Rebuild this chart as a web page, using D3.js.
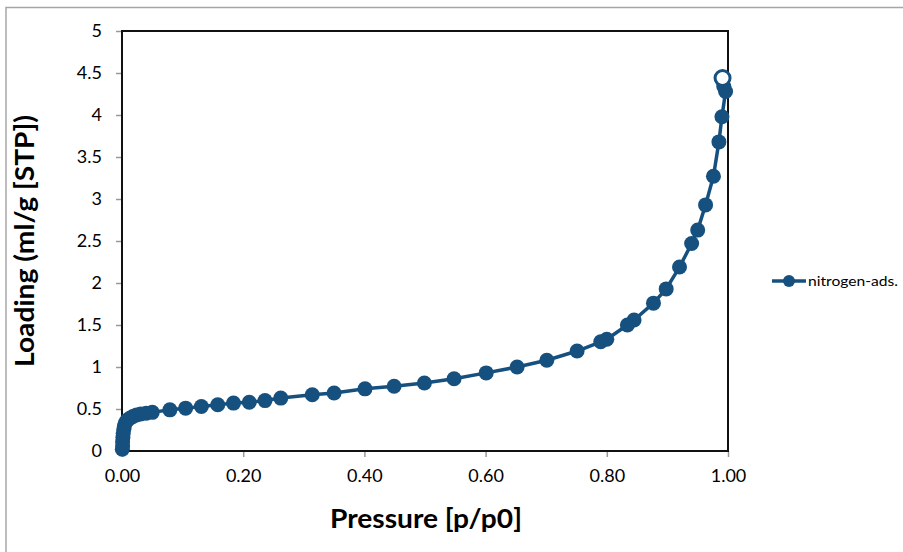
<!DOCTYPE html>
<html>
<head>
<meta charset="utf-8">
<script src="https://cdn.jsdelivr.net/npm/d3@7"></script>
<style>
  body { margin: 0; background: #fff; }
  svg text { font-family: Lato, "Open Sans", sans-serif; fill: #000; }
</style>
</head>
<body>
<svg id="chart" width="903" height="552"></svg>
<script>
// relative pressure p/p0
const pressure = [0.0005, 0.001, 0.001, 0.0015, 0.002, 0.003, 0.004, 0.006, 0.009, 0.013,
    0.018, 0.024, 0.031, 0.04, 0.05, 0.079, 0.105, 0.131, 0.158, 0.184,
    0.21, 0.236, 0.262, 0.314, 0.35, 0.401, 0.449, 0.499, 0.548, 0.601,
    0.652, 0.701, 0.751, 0.79, 0.8, 0.834, 0.845, 0.877, 0.898, 0.92,
    0.94, 0.95, 0.963, 0.976, 0.985, 0.99, 0.996, 0.993, 0.991];
// loading in ml/g [STP]
const loading = [0.02, 0.06, 0.11, 0.16, 0.21, 0.26, 0.3, 0.34, 0.37, 0.39,
    0.41, 0.43, 0.44, 0.45, 0.46, 0.49, 0.51, 0.53, 0.55, 0.57,
    0.58, 0.6, 0.63, 0.67, 0.69, 0.74, 0.77, 0.81, 0.86, 0.93,
    1.0, 1.08, 1.19, 1.3, 1.33, 1.5, 1.56, 1.76, 1.93, 2.19,
    2.47, 2.63, 2.93, 3.27, 3.68, 3.98, 4.28, 4.34, 4.44];

const xTicks = [0, 0.2, 0.4, 0.6, 0.8, 1.0];
const yTicks = [0, 0.5, 1, 1.5, 2, 2.5, 3, 3.5, 4, 4.5, 5];
const seriesName = 'nitrogen-ads.';

const color = '#16507f';
const svg = d3.select('#chart');

// outer chart border
svg.append('path')
    .attr('d', 'M6,552 V7.5 H903')
    .attr('fill', 'none')
    .attr('stroke', '#a6a6a6')
    .attr('stroke-width', 1.5);

const plotL = 122, plotR = 728, plotT = 31, plotB = 451;
const x = d3.scaleLinear().domain([0, 1]).range([plotL, plotR]);
const y = d3.scaleLinear().domain([0, 5]).range([plotB, plotT]);

// axes
const xAxis = svg.append('g')
    .attr('transform', `translate(0,${plotB})`)
    .call(d3.axisBottom(x).tickValues(xTicks).tickSize(6).tickPadding(12).tickFormat(d3.format('.2f')));
const yAxis = svg.append('g')
    .attr('transform', `translate(${plotL},0)`)
    .call(d3.axisLeft(y).tickValues(yTicks).tickSize(6).tickPadding(14).tickFormat(d => d));

[xAxis, yAxis].forEach(a => {
    a.select('.domain').remove();
    a.selectAll('.tick line').attr('stroke', '#999').attr('stroke-width', 1.5);
    a.selectAll('.tick text').style('font-size', '18px');
});

// plot frame
svg.append('rect')
    .attr('x', plotL).attr('y', plotT)
    .attr('width', plotR - plotL).attr('height', plotB - plotT)
    .attr('fill', 'none')
    .attr('stroke', '#111')
    .attr('stroke-width', 2);

const pts = pressure.map((p, i) => ({p: p, v: loading[i]}));

svg.append('path')
    .datum(pts)
    .attr('fill', 'none')
    .attr('stroke', color)
    .attr('stroke-width', 3.5)
    .attr('stroke-linejoin', 'round')
    .attr('d', d3.line().x(d => x(d.p)).y(d => y(d.v)));

svg.selectAll('circle.pt')
    .data(pts)
    .enter()
    .append('circle')
    .attr('class', 'pt')
    .attr('cx', d => x(d.p))
    .attr('cy', d => y(d.v))
    .attr('r', 7.5)
    .attr('fill', (d, i) => i === pts.length - 1 ? '#fff' : color)
    .attr('stroke', color)
    .attr('stroke-width', (d, i) => i === pts.length - 1 ? 3 : 0);

// axis titles
svg.append('text')
    .text('Pressure [p/p0]')
    .attr('x', (plotL + plotR) / 2 + 1)
    .attr('y', 528)
    .attr('text-anchor', 'middle')
    .attr('textLength', 192)
    .attr('lengthAdjust', 'spacingAndGlyphs')
    .style('font-size', '26px')
    .style('font-weight', '700');

svg.append('text')
    .text('Loading (ml/g [STP])')
    .attr('transform', `translate(34,${(plotT + plotB) / 2}) rotate(-90)`)
    .attr('text-anchor', 'middle')
    .attr('textLength', 252)
    .attr('lengthAdjust', 'spacingAndGlyphs')
    .style('font-size', '26px')
    .style('font-weight', '700');

// legend
const lg = svg.append('g').attr('transform', 'translate(772,281)');
lg.append('line')
    .attr('x1', 0).attr('x2', 34)
    .attr('stroke', color).attr('stroke-width', 3.5);
lg.append('circle').attr('cx', 17).attr('r', 6).attr('fill', color);
lg.append('text')
    .text(seriesName)
    .attr('x', 36).attr('y', 5)
    .attr('textLength', 90)
    .attr('lengthAdjust', 'spacingAndGlyphs')
    .style('font-size', '14px');
</script>
</body>
</html>
